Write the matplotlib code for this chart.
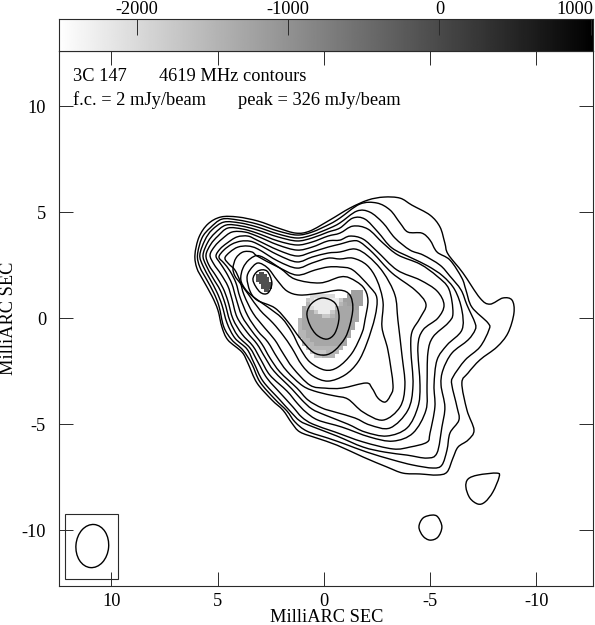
import numpy as np
import matplotlib
matplotlib.use("Agg")
import matplotlib.pyplot as plt
from matplotlib.path import Path
from matplotlib.patches import PathPatch, Ellipse, Rectangle
from matplotlib.transforms import ScaledTranslation

plt.rcParams['font.family'] = ['Liberation Serif', 'DejaVu Serif']

# ---- data, in milliarcsec (relative RA, relative Dec) ----
contour_01 = [(6.07,2.99),(5.88,3.83),(5.46,4.45),(4.85,4.78),(4.05,4.78),(3.11,4.59),(2.16,4.26),(1.32,4.02),(0.66,4.12),(-0.28,4.64),(-1.22,5.20),(-2.07,5.58),(-2.82,5.72),(-3.58,5.67),(-4.14,5.34),(-4.99,4.87),(-5.46,4.31),(-5.69,3.55),(-5.84,3.03),(-6.54,2.14),(-7.34,0.96),(-7.81,0.67),(-8.42,0.96),(-8.85,0.86),(-8.94,0.25),(-8.66,-0.69),(-8.14,-1.35),(-7.34,-1.96),(-6.78,-2.58),(-6.49,-3.05),(-6.73,-4.33),(-7.06,-5.27),(-6.78,-5.74),(-6.31,-6.07),(-6.07,-6.59),(-5.79,-7.25),(-5.32,-7.39),(-4.52,-7.34),(-3.72,-7.30),(-2.96,-7.01),(-1.84,-6.54),(-0.61,-5.98),(0.33,-5.65),(1.13,-5.36),(1.51,-4.94),(1.93,-4.33),(2.45,-3.85),(3.15,-3.05),(3.58,-2.11),(3.86,-1.59),(4.52,-1.02),(4.80,-0.41),(4.99,0.39),(5.27,1.05),(5.69,1.81),(5.98,2.37)]
contour_02 = [(5.95,2.99),(5.74,3.79),(5.36,4.26),(4.80,4.68),(4.05,4.64),(3.15,4.45),(2.16,4.12),(1.27,3.93),(0.56,4.07),(-0.28,4.45),(-0.75,4.73),(-1.69,5.39),(-2.49,5.44),(-3.11,5.11),(-3.58,4.50),(-3.95,4.07),(-4.61,4.02),(-4.99,3.69),(-5.32,3.13),(-5.93,2.75),(-6.49,1.90),(-6.68,1.34),(-6.96,0.53),(-7.72,-0.22),(-7.76,-0.55),(-7.34,-1.35),(-6.64,-1.97),(-6.07,-2.77),(-6.02,-3.15),(-6.26,-4.18),(-6.35,-4.80),(-5.93,-5.41),(-5.79,-6.21),(-5.55,-6.92),(-5.13,-7.06),(-4.19,-6.92),(-3.25,-6.68),(-2.02,-6.31),(-0.99,-5.93),(-0.19,-5.65),(0.80,-5.32),(1.36,-4.89),(1.74,-4.37),(2.31,-3.81),(3.01,-3.00),(3.39,-2.16),(3.81,-1.50),(4.33,-1.02),(4.71,-0.41),(4.94,0.58),(5.18,1.19),(5.51,1.81),(5.84,2.42)]
contour_03 = [(5.84,2.99),(5.60,3.69),(5.27,4.17),(4.71,4.54),(3.95,4.50),(3.15,4.31),(2.16,3.98),(1.27,3.79),(0.56,3.93),(-0.28,4.26),(-0.75,4.50),(-1.55,5.06),(-2.16,5.01),(-2.78,4.50),(-3.34,3.79),(-4.05,3.22),(-4.66,2.99),(-5.46,2.51),(-5.93,1.99),(-6.45,1.34),(-6.73,0.63),(-7.11,-0.22),(-7.11,-0.55),(-6.78,-1.02),(-6.02,-1.64),(-5.60,-2.44),(-5.51,-3.15),(-5.69,-4.18),(-5.55,-5.13),(-5.32,-6.35),(-4.85,-6.59),(-3.91,-6.45),(-2.87,-6.31),(-1.84,-6.07),(-0.61,-5.55),(0.56,-5.10),(1.13,-4.84),(1.60,-4.37),(2.07,-3.85),(2.87,-2.96),(3.29,-2.11),(3.62,-1.45),(4.19,-0.93),(4.56,-0.22),(4.80,0.63),(5.04,1.24),(5.36,1.85),(5.69,2.47)]
contour_04 = [(5.69,2.99),(5.46,3.60),(5.13,4.02),(4.61,4.40),(3.91,4.36),(3.15,4.17),(2.16,3.84),(1.27,3.65),(0.56,3.79),(-0.19,4.07),(-0.75,4.26),(-1.36,4.73),(-1.93,4.68),(-2.54,4.07),(-3.20,3.32),(-4.14,2.84),(-4.89,2.47),(-5.60,1.99),(-6.16,1.34),(-6.49,0.39),(-6.49,-0.55),(-5.79,-1.26),(-5.32,-1.97),(-5.18,-3.15),(-5.22,-4.18),(-4.99,-5.41),(-4.85,-5.84),(-4.05,-6.07),(-3.25,-6.16),(-1.84,-5.83),(-0.52,-5.36),(0.52,-4.99),(1.04,-4.66),(1.46,-4.18),(1.93,-3.66),(2.68,-2.82),(3.11,-2.06),(3.48,-1.40),(4.05,-0.83),(4.42,-0.13),(4.66,0.72),(4.89,1.34),(5.22,1.90),(5.55,2.51)]
contour_05 = [(5.55,2.99),(5.32,3.50),(4.99,3.88),(4.52,4.26),(3.81,4.21),(3.15,4.02),(2.16,3.65),(1.27,3.46),(0.56,3.60),(-0.19,3.88),(-0.75,4.02),(-1.36,4.35),(-2.07,4.21),(-2.78,3.55),(-3.48,2.99),(-4.52,2.56),(-5.32,1.99),(-5.88,1.38),(-6.07,0.25),(-5.84,-0.22),(-5.13,-0.88),(-4.89,-1.64),(-4.85,-3.15),(-4.80,-4.33),(-4.19,-5.41),(-3.25,-5.79),(-2.16,-5.60),(-0.85,-5.13),(0.28,-4.80),(0.85,-4.42),(1.27,-3.99),(1.74,-3.43),(2.54,-2.68),(2.96,-1.97),(3.34,-1.31),(3.86,-0.74),(4.28,-0.03),(4.52,0.82),(4.75,1.43),(5.08,2.00),(5.41,2.51)]
contour_06 = [(5.36,2.99),(5.13,3.41),(4.80,3.74),(4.33,4.07),(3.72,4.07),(3.15,3.88),(2.16,3.46),(1.27,3.22),(0.56,3.36),(-0.19,3.65),(-0.75,3.69),(-1.22,3.88),(-1.84,3.74),(-2.49,3.17),(-3.44,2.28),(-4.52,1.81),(-5.32,1.29),(-5.65,0.63),(-5.36,0.01),(-4.66,-0.55),(-4.42,-1.35),(-4.52,-3.15),(-4.42,-4.18),(-3.91,-5.17),(-2.96,-5.55),(-1.93,-5.36),(-1.13,-4.99),(-0.05,-4.56),(0.56,-4.28),(1.04,-3.85),(1.51,-3.33),(2.35,-2.49),(2.78,-1.83),(3.15,-1.21),(3.62,-0.65),(4.09,0.06),(4.33,0.91),(4.52,1.52),(4.85,2.09),(5.18,2.56)]
contour_07 = [(5.08,2.94),(4.89,3.27),(4.56,3.55),(4.09,3.84),(3.58,3.88),(3.15,3.69),(2.16,3.22),(1.27,2.94),(0.56,3.13),(-0.19,3.36),(-0.75,3.50),(-1.32,3.65),(-1.69,3.60),(-2.31,3.08),(-3.20,2.14),(-4.28,1.34),(-4.80,0.67),(-4.52,0.01),(-4.14,-0.65),(-4.09,-1.50),(-4.19,-3.15),(-3.95,-4.33),(-3.11,-5.17),(-2.16,-5.03),(-1.46,-4.70),(-0.52,-4.42),(0.09,-4.23),(0.75,-3.85),(1.27,-3.29),(2.07,-2.53),(2.54,-1.87),(2.92,-1.21),(3.39,-0.60),(3.86,0.11),(4.14,0.96),(4.33,1.62),(4.61,2.18),(4.89,2.61)]
contour_08 = [(4.94,2.89),(4.71,3.22),(4.33,3.50),(3.91,3.64),(3.48,3.64),(3.11,3.50),(2.16,2.99),(1.27,2.66),(0.56,2.89),(-0.19,3.08),(-0.75,3.13),(-1.46,3.27),(-2.07,2.94),(-2.78,2.18),(-3.34,1.10),(-3.48,-0.08),(-3.67,-1.73),(-3.81,-3.15),(-3.58,-4.18),(-2.78,-4.80),(-1.84,-4.42),(-1.13,-3.81),(-0.52,-3.66),(0.28,-3.48),(0.99,-3.19),(1.74,-2.49),(2.21,-1.83),(2.64,-1.12),(3.11,-0.60),(3.58,0.11),(3.95,1.00),(4.14,1.67),(4.42,2.23),(4.71,2.61)]
contour_09 = [(4.66,2.84),(4.42,3.13),(4.05,3.36),(3.58,3.41),(3.11,3.27),(2.16,2.70),(1.27,2.37),(0.56,2.61),(-0.19,2.84),(-0.75,2.80),(-1.36,2.84),(-2.02,2.51),(-2.49,1.81),(-2.78,0.77),(-2.73,-0.41),(-3.01,-1.50),(-3.25,-3.15),(-3.11,-3.67),(-2.87,-3.95),(-2.54,-3.76),(-2.26,-3.29),(-1.98,-3.05),(-0.85,-3.29),(-0.05,-3.29),(0.66,-3.15),(1.46,-2.34),(1.93,-1.64),(2.31,-1.02),(2.78,-0.46),(3.34,0.25),(3.76,1.10),(3.95,1.76),(4.19,2.28),(4.47,2.56)]
contour_10 = [(4.28,2.37),(4.14,2.84),(3.81,3.13),(3.39,3.13),(3.11,2.92),(2.16,2.42),(1.27,2.04),(0.42,2.28),(-0.19,2.42),(-0.75,2.42),(-1.36,2.28),(-2.16,1.48),(-2.49,0.96),(-2.40,0.06),(-2.02,-1.17),(-1.60,-2.06),(-0.99,-2.67),(-0.19,-2.96),(0.52,-2.72),(1.04,-2.20),(1.51,-1.40),(1.93,-0.79),(2.40,-0.22),(3.01,0.39),(3.53,1.10),(3.95,1.67),(4.19,2.00)]
contour_11 = [(3.91,1.81),(3.81,2.37),(3.48,2.80),(3.01,2.94),(2.07,2.37),(1.36,1.85),(0.19,1.67),(-0.75,1.95),(-1.22,1.90),(-1.84,1.48),(-2.07,0.86),(-1.93,-0.08),(-1.79,-0.69),(-1.32,-1.64),(-0.66,-2.30),(-0.05,-2.44),(0.66,-2.06),(1.13,-1.40),(1.51,-0.65),(1.98,0.01),(2.64,0.53),(3.25,0.96),(3.67,1.34)]
contour_12 = [(3.62,1.90),(3.48,2.28),(3.11,2.61),(2.64,2.37),(2.21,1.81),(1.74,1.29),(1.13,1.10),(0.19,1.19),(-0.75,1.33),(-1.22,1.10),(-1.36,0.49),(-1.22,-0.32),(-0.99,-0.93),(-0.52,-1.50),(-0.05,-1.73),(0.52,-1.59),(1.13,-0.93),(1.69,-0.17),(2.31,0.49),(3.15,0.86),(3.48,1.29)]
contour_knot = [(3.34,1.81),(3.11,2.23),(2.68,2.23),(2.45,1.67),(2.64,1.19),(3.01,1.24)]
contour_core = [(0.80,0.25),(0.66,-0.32),(0.33,-0.79),(-0.14,-0.98),(-0.52,-0.69),(-0.71,0.06),(-0.52,0.72),(0.05,0.96),(0.56,0.72)]
contour_island_a = [(-6.68,-7.96),(-6.78,-7.58),(-7.25,-7.39),(-8.14,-7.30),(-8.24,-7.49),(-7.95,-8.19),(-7.58,-8.66),(-7.25,-8.76),(-6.87,-8.48)]
contour_island_b = [(-4.47,-9.84),(-4.66,-9.42),(-5.08,-9.28),(-5.36,-9.37),(-5.55,-9.84),(-5.36,-10.32),(-4.99,-10.46),(-4.66,-10.27)]
all_contours = [contour_01, contour_02, contour_03, contour_04, contour_05, contour_06,
                contour_07, contour_08, contour_09, contour_10, contour_11, contour_12,
                contour_knot, contour_core, contour_island_a, contour_island_b]

# grey-scale pixels (values in colour-bar units)
pixel_levels = {'.': np.nan, 'a': -2230, 'b': -2000, 'c': -1750, 'd': -1500, 'e': -1300, 'f': -1200, 'x': -100}
core_pixels = [
    ".............fff.",
    "...bbbbbb...ffff.",
    "..cbaaaaaacfffff.",
    "..daaaaaaadeffff.",
    ".edbaaaaadeeeef..",
    ".eeecaaaceeeeee..",
    ".eeeeeccdeeeeee..",
    "deeeeeeeeeeeeee..",
    "deeeeeeeeeeeee...",
    "deeeeeeeeeeeee...",
    "ddeeeeeeeeeee....",
    "ddeeeeeeeeeee....",
    ".ddeeeeeeeee.....",
    ".dddeeeeeeee.....",
    "..cdddddddd......",
    "...ccccddd.......",
    "....ccddd........",
]
knot_pixels = [".xx...", "xxxx..", "xxxxx.", "xxxxx.", ".xxxxx", "..xxxx", "..xxxx", "...xx."]
core_extent = (1.22, -1.98, -1.87, 1.335)
knot_extent = (3.20, 2.49, 1.24, 2.14)

colorbar_ticks = [-2000, -1000, 0, 1000]
colorbar_range = (-2515, 1014)
x_ticks = [10, 5, 0, -5, -10]
y_ticks = [-10, -5, 0, 5, 10]
x_limits = (12.49, -12.66)
y_limits = (-12.61, 12.61)
beam_center = (10.90, -10.74)
beam_axes = (1.54, 2.04)
beam_angle = 5
beam_box = (12.19, 9.68, -12.31, -9.22)

W, H = 595, 625
LINE = '#2a2a2a'
FS = 13.2


def closed_smooth(points):
    pts = np.asarray(points, float)
    n = len(pts)
    verts = [pts[0]]
    codes = [Path.MOVETO]
    for i in range(n):
        p0, p1, p2, p3 = pts[(i - 1) % n], pts[i], pts[(i + 1) % n], pts[(i + 2) % n]
        verts += [p1 + (p2 - p0) / 6, p2 - (p3 - p1) / 6, p2]
        codes += [Path.CURVE4] * 3
    return Path(verts, codes)


def to_grid(rows):
    return np.array([[pixel_levels[c] for c in r] for r in rows], float)


fig = plt.figure(figsize=(W / 100, H / 100), dpi=100)
ax = fig.add_axes([58.5 / W, (H - 585.7) / H, (593 - 58.5) / W, (585.7 - 51) / H])
cax = fig.add_axes([58.5 / W, (H - 51) / H, (593 - 58.5) / W, 32 / H])

# colour bar
grad = np.linspace(colorbar_range[0], colorbar_range[1], 512)[None, :]
cax.imshow(grad, aspect='auto', cmap='gray_r', vmin=colorbar_range[0], vmax=colorbar_range[1],
           extent=(colorbar_range[0], colorbar_range[1], 0, 1))
cax.set_xticks(colorbar_ticks)
cax.set_xticklabels([str(t) for t in colorbar_ticks])
cax.set_yticks([])
cax.xaxis.tick_top()
cax.tick_params(axis='x', direction='in', length=11.5, width=0.7, color=LINE, pad=1.0, labelsize=FS)
last_label = cax.get_xticklabels()[-1]
last_label.set_ha('right')
last_label.set_transform(last_label.get_transform() + ScaledTranslation(2.5 / 100, 0, fig.dpi_scale_trans))

# map
for rows, ext in ((core_pixels, core_extent), (knot_pixels, knot_extent)):
    ax.imshow(to_grid(rows), cmap='gray_r', vmin=colorbar_range[0], vmax=colorbar_range[1],
              extent=ext, origin='upper', interpolation='nearest', aspect='auto', zorder=1)
for c in all_contours:
    ax.add_patch(PathPatch(closed_smooth(c), fill=False, edgecolor='black', lw=1.0, zorder=3))

ax.add_patch(Ellipse(beam_center, beam_axes[0], beam_axes[1], angle=beam_angle,
                     fill=False, edgecolor='black', lw=1.0, zorder=3))
ax.add_patch(Rectangle((beam_box[0], beam_box[2]), beam_box[1] - beam_box[0], beam_box[3] - beam_box[2],
                       fill=False, edgecolor=LINE, lw=0.8, zorder=2))

ax.set_xlim(*x_limits)
ax.set_ylim(*y_limits)
ax.set_xticks(x_ticks)
ax.set_yticks(y_ticks)
ax.set_xticklabels([str(t) for t in x_ticks])
ax.set_yticklabels([str(t) for t in y_ticks])
ax.tick_params(axis='both', direction='in', length=10, width=0.7, color=LINE, top=True, right=True, labelsize=FS)
ax.tick_params(axis='x', pad=5.5)
ax.tick_params(axis='y', pad=9)
for a in (ax, cax):
    for s in a.spines.values():
        s.set_linewidth(0.8)
        s.set_color(LINE)

ax.text(11.81, 11.19, "3C 147", fontsize=FS, va='baseline', ha='left')
ax.text(7.76, 11.19, "4619 MHz contours", fontsize=FS, va='baseline', ha='left')
ax.text(11.81, 10.06, "f.c. = 2 mJy/beam", fontsize=FS, va='baseline', ha='left')
ax.text(4.05, 10.06, "peak = 326 mJy/beam", fontsize=FS, va='baseline', ha='left')

fig.text(327 / W, (H - 622.5) / H, "MilliARC SEC", fontsize=FS, ha='center', va='baseline')
fig.text(9 / W, (H - 318) / H, "MilliARC SEC", fontsize=FS, ha='center', va='center', rotation=90)

fig.savefig("out.png", dpi=100)
